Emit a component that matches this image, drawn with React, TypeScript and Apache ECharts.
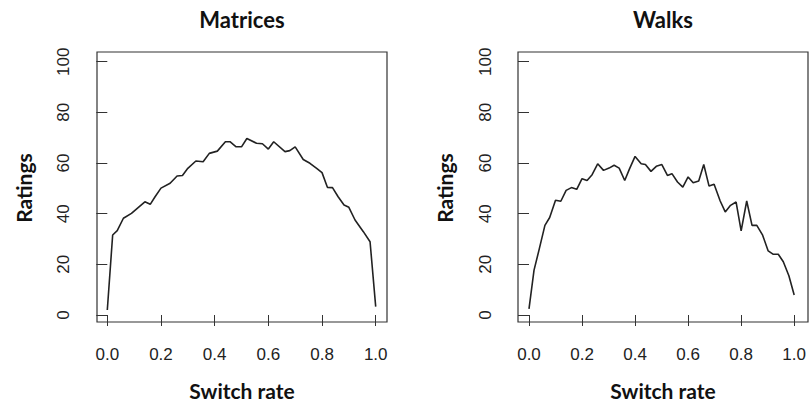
import React, { useEffect, useRef } from "react";
import * as echarts from "echarts";

const panelTitles = ["Matrices", "Walks"];
const xAxisTitle = "Switch rate";
const yAxisTitle = "Ratings";

const matricesX = [0, 0.02, 0.037, 0.06, 0.09, 0.116, 0.14, 0.16, 0.178, 0.2, 0.234, 0.26, 0.28, 0.3, 0.33, 0.357, 0.38, 0.41, 0.44, 0.457, 0.48, 0.5, 0.52, 0.556, 0.578, 0.6, 0.62, 0.662, 0.68, 0.7, 0.73, 0.755, 0.78, 0.8, 0.82, 0.839, 0.86, 0.882, 0.9, 0.923, 0.954, 0.979, 1.0];
const matricesY = [2, 31.6, 33.3, 38.2, 40.1, 42.5, 44.7, 43.7, 46.7, 50.1, 52, 54.9, 55.1, 57.9, 60.8, 60.5, 63.8, 64.7, 68.4, 68.4, 66.4, 66.4, 69.7, 67.8, 67.6, 65.5, 68.4, 64.5, 64.9, 66.4, 61.4, 59.9, 57.9, 56.2, 50.4, 50.3, 46.7, 43.4, 42.5, 37.5, 32.9, 28.9, 3.3];

const walksX = [0, 0.019, 0.039, 0.06, 0.078, 0.1, 0.12, 0.14, 0.16, 0.18, 0.2, 0.219, 0.238, 0.259, 0.281, 0.302, 0.321, 0.34, 0.361, 0.379, 0.4, 0.423, 0.439, 0.46, 0.48, 0.501, 0.522, 0.539, 0.56, 0.58, 0.6, 0.619, 0.64, 0.659, 0.679, 0.698, 0.721, 0.74, 0.76, 0.781, 0.8, 0.821, 0.841, 0.859, 0.881, 0.902, 0.92, 0.94, 0.959, 0.98, 1.0];
const walksY = [2.4, 17.7, 26.2, 35.4, 38.5, 45.3, 44.9, 49.2, 50.3, 49.6, 53.8, 53.1, 55.4, 59.7, 57.1, 58, 59.1, 58, 53.1, 57.7, 62.6, 59.7, 59.4, 56.7, 58.7, 59.4, 55.1, 55.8, 52.5, 50.5, 54.5, 52.2, 52.9, 59.4, 50.9, 51.6, 45, 40.7, 43.3, 44.6, 33.2, 45, 35.4, 35.4, 31.5, 25.3, 24, 24, 21, 15.5, 7.9];

const xTickValues = [0, 0.2, 0.4, 0.6, 0.8, 1.0];
const yTickValues = [0, 20, 40, 60, 80, 100];

const TICK_FONT = "'Liberation Sans', Arial, Helvetica, sans-serif";
const TITLE_FONT = "Lato, 'Open Sans', sans-serif";

export default function App() {
  const ref = useRef<HTMLDivElement>(null);
  useEffect(() => {
    if (!ref.current) return;
    const chart = echarts.init(ref.current, null, { renderer: "svg" });
    const panels = [
      { gl: 107.3, gw: 268.4, bx: 97, bw: 290, x: matricesX, y: matricesY },
      { gl: 529, gw: 268, bx: 518, bw: 290, x: walksX, y: walksY },
    ];
    const gTop = 61.7;
    const gH = 253.3;
    const boxTop = 52;
    const boxBottom = 322;

    const grids = panels.map((p) => ({ left: p.gl, width: p.gw, top: gTop, height: gH }));
    const xAxes = panels.map((p, i) => ({
      type: "value",
      gridIndex: i,
      min: xTickValues[0],
      max: xTickValues[xTickValues.length - 1],
      interval: 0.2,
      offset: 7,
      axisLine: { show: false },
      splitLine: { show: false },
      axisTick: { show: true, length: 11, lineStyle: { color: "#333", width: 1 } },
      axisLabel: {
        formatter: (v: number) => v.toFixed(1),
        fontFamily: TICK_FONT,
        fontSize: 17,
        color: "#222",
        margin: 24,
      },
    }));
    const yAxes = panels.map((p, i) => ({
      type: "value",
      gridIndex: i,
      min: yTickValues[0],
      max: yTickValues[yTickValues.length - 1],
      interval: 20,
      offset: 10,
      axisLine: { show: false },
      splitLine: { show: false },
      axisTick: { show: true, length: 11, lineStyle: { color: "#333", width: 1 } },
      axisLabel: {
        rotate: 90,
        fontFamily: TICK_FONT,
        fontSize: 17,
        color: "#222",
        margin: 25,
      },
    }));
    const series = panels.map((p, i) => ({
      type: "line",
      xAxisIndex: i,
      yAxisIndex: i,
      data: p.x.map((xv, j) => [xv, p.y[j]]),
      showSymbol: false,
      symbol: "none",
      lineStyle: { color: "#222", width: 1.6 },
      silent: true,
    }));
    const graphic: any[] = [];
    panels.forEach((p, i) => {
      graphic.push({
        type: "rect",
        shape: { x: p.bx, y: boxTop, width: p.bw, height: boxBottom - boxTop },
        style: { fill: "none", stroke: "#333", lineWidth: 1.2 },
        silent: true,
      });
      graphic.push({
        type: "text",
        x: p.bx + p.bw / 2,
        y: 19,
        style: { text: panelTitles[i], font: `bold 22px ${TITLE_FONT}`, fill: "#111", textAlign: "center", textVerticalAlign: "middle" },
      });
      graphic.push({
        type: "text",
        x: p.bx + p.bw / 2,
        y: 390,
        style: { text: xAxisTitle, font: `bold 21px ${TITLE_FONT}`, fill: "#111", textAlign: "center", textVerticalAlign: "middle" },
      });
      graphic.push({
        type: "text",
        x: p.bx - 74,
        y: 188,
        rotation: Math.PI / 2,
        style: { text: yAxisTitle, font: `bold 21px ${TITLE_FONT}`, fill: "#111", textAlign: "center", textVerticalAlign: "middle" },
      });
    });

    chart.setOption({
      animation: false,
      grid: grids,
      xAxis: xAxes,
      yAxis: yAxes,
      series,
      graphic,
    });
    return () => chart.dispose();
  }, []);
  return <div ref={ref} style={{ position: "fixed", left: 0, top: 0, width: 809, height: 404, background: "#fff" }} />;
}
